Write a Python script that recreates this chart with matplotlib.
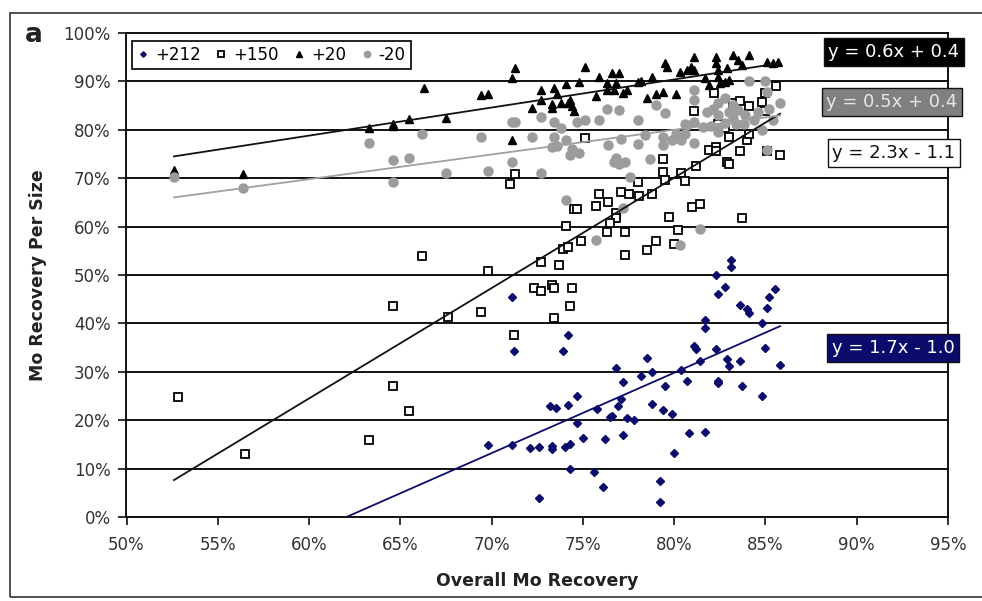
import numpy as np
import matplotlib.pyplot as plt
from matplotlib.patches import Rectangle
from matplotlib.ticker import MultipleLocator, FuncFormatter

plt.rcParams['font.family'] = 'DejaVu Sans'

# overall Mo recovery (%) against recovery per size fraction (%)
x_212 = [71.1, 74.2, 71.2, 73.9, 78.5, 82.3, 83.1, 83.1, 82.8, 82.4, 85.5, 85.2, 85.1, 83.6, 84.0,
         84.1, 84.8, 81.7, 81.7, 81.1, 81.2, 82.3, 85.0, 82.9, 83.0, 83.6, 85.8, 81.4, 80.4, 78.8,
         78.2, 77.2, 76.8, 80.7, 79.5, 82.4, 82.4, 83.7, 84.8, 74.7, 73.2, 73.5, 74.2, 75.8, 77.1,
         76.9, 76.6, 76.5, 77.4, 77.8, 78.8, 79.4, 79.9, 74.7, 69.8, 71.1, 72.1, 72.6, 73.3, 73.3,
         74.0, 74.3, 75.0, 76.2, 77.2, 80.8, 81.7, 80.0, 74.3, 75.6, 76.1, 72.6, 79.2, 79.2]
y_212 = [45.4, 37.7, 34.4, 34.3, 32.9, 50.1, 53.1, 51.7, 47.5, 46.0, 47.1, 45.5, 43.2, 43.9, 42.9,
         42.1, 40.0, 40.8, 39.1, 35.4, 34.7, 34.7, 34.9, 32.6, 31.2, 32.2, 31.5, 32.2, 30.4, 29.9,
         29.1, 27.8, 30.8, 28.0, 27.1, 28.0, 27.6, 27.1, 25.1, 25.1, 22.9, 22.5, 23.1, 22.3, 24.3,
         22.9, 20.9, 20.7, 20.4, 20.0, 23.3, 22.1, 21.2, 19.4, 14.9, 14.9, 14.2, 14.5, 14.7, 14.0,
         14.5, 15.1, 16.4, 16.1, 16.9, 17.3, 17.5, 13.2, 9.9, 9.2, 6.3, 3.9, 7.5, 3.0]

x_150 = [52.8, 56.5, 63.3, 64.6, 64.6, 65.5, 66.2, 67.6, 69.4, 69.8, 71.2, 71.3, 71.0, 72.3, 72.7,
         72.7, 73.3, 73.4, 74.4, 74.3, 73.4, 73.7, 73.9, 74.2, 74.9, 74.1, 74.5, 74.7, 75.1, 75.7,
         75.9, 76.4, 76.8, 76.8, 76.5, 76.3, 77.3, 77.3, 77.1, 77.5, 78.0, 78.1, 78.8, 78.5, 79.0,
         79.7, 80.0, 80.2, 79.4, 79.4, 79.5, 80.4, 80.6, 81.2, 81.0, 81.4, 81.1, 81.9, 82.3, 82.3,
         82.9, 83.0, 82.4, 82.8, 83.0, 82.2, 83.2, 83.6, 83.7, 83.6, 84.0, 84.1, 84.1, 84.8, 85.0,
         85.0, 85.6, 85.8, 85.1]
y_150 = [24.7, 13.0, 15.9, 43.6, 27.1, 21.8, 53.9, 41.3, 42.3, 50.9, 37.6, 70.8, 68.9, 47.3, 46.7,
         52.7, 48.0, 47.3, 47.3, 43.6, 41.1, 52.1, 55.3, 55.7, 57.0, 60.1, 63.6, 63.6, 78.4, 64.3,
         66.7, 65.0, 62.9, 61.7, 60.7, 58.9, 58.9, 54.1, 67.2, 66.7, 69.3, 66.4, 66.7, 55.2, 57.0,
         62.0, 56.4, 59.3, 73.9, 71.3, 69.6, 71.1, 69.4, 72.5, 64.0, 64.6, 83.9, 75.8, 76.5, 75.6,
         73.4, 72.9, 81.3, 80.3, 78.6, 87.7, 85.5, 86.0, 61.8, 75.6, 77.9, 79.1, 85.0, 85.8, 83.9,
         87.6, 89.0, 74.8, 75.6]

x_20 = [52.6, 56.4, 63.3, 64.6, 64.6, 65.5, 66.3, 67.5, 69.4, 69.8, 71.3, 71.1, 71.1, 72.2, 72.7,
        72.7, 73.4, 73.6, 73.3, 73.3, 73.8, 74.1, 74.2, 74.3, 74.4, 74.5, 74.8, 75.1, 75.7, 75.9,
        76.3, 76.3, 76.6, 76.7, 76.8, 77.0, 77.2, 77.4, 78.0, 78.2, 78.5, 79.0, 79.4, 80.1, 78.8,
        79.5, 79.6, 80.3, 80.7, 80.9, 81.1, 81.1, 81.7, 81.9, 82.3, 82.3, 82.4, 82.9, 83.0, 82.5,
        83.2, 83.5, 83.7, 84.1, 85.1, 85.4, 85.7, 82.4, 82.8]
y_20 = [71.7, 70.9, 80.3, 81.3, 80.8, 82.2, 88.7, 82.4, 87.2, 87.3, 92.7, 90.6, 77.9, 84.6, 88.2,
        86.2, 88.7, 87.3, 85.4, 84.6, 85.6, 89.4, 85.5, 86.2, 84.9, 83.9, 89.9, 92.9, 86.9, 91.0,
        88.2, 89.6, 91.7, 88.2, 89.6, 91.7, 87.7, 88.2, 89.9, 90.1, 86.5, 87.5, 87.9, 87.5, 91.0,
        93.7, 93.0, 92.0, 92.4, 93.0, 92.4, 95.1, 90.6, 89.3, 95.1, 93.9, 92.4, 92.7, 90.3, 89.6,
        95.5, 94.4, 93.4, 95.5, 94.1, 93.7, 94.1, 91.0, 89.9]

x_m20 = [52.6, 56.4, 63.3, 64.6, 65.5, 64.6, 66.2, 67.5, 69.4, 69.8, 71.1, 71.3, 71.1, 72.2, 72.7,
         72.7, 73.4, 73.4, 73.8, 74.1, 73.3, 73.6, 74.3, 74.4, 74.8, 74.7, 75.1, 75.9, 76.3, 77.0,
         76.4, 76.8, 76.7, 77.3, 77.0, 77.1, 78.0, 78.0, 77.6, 78.7, 79.0, 79.5, 78.4, 79.4, 79.4,
         80.1, 80.4, 80.6, 81.1, 81.1, 81.1, 84.1, 85.0, 85.1, 85.8, 81.1, 81.8, 82.1, 82.4, 82.8,
         83.2, 82.4, 83.0, 83.5, 83.9, 84.4, 84.6, 85.2, 85.4, 82.0, 82.4, 82.8, 83.2, 83.4, 83.8,
         81.6, 82.4, 84.8, 80.7, 80.6, 79.9, 85.1, 74.1, 75.7, 77.2, 80.3, 81.4]
y_m20 = [70.2, 68.0, 77.2, 73.8, 74.1, 69.3, 79.1, 71.1, 78.6, 71.5, 81.7, 81.7, 73.4, 78.6, 82.7,
         71.0, 81.7, 78.6, 80.3, 77.9, 76.5, 76.7, 74.8, 76.0, 75.3, 81.7, 82.0, 82.0, 84.3, 84.1,
         76.9, 74.1, 73.4, 73.4, 72.9, 78.2, 82.0, 77.0, 70.3, 73.9, 85.1, 83.4, 78.9, 76.9, 78.6,
         79.1, 77.9, 81.3, 77.2, 88.2, 86.2, 90.1, 90.1, 87.9, 85.5, 81.7, 83.7, 84.4, 85.5, 86.5,
         85.1, 83.1, 83.7, 84.1, 83.1, 82.0, 83.7, 84.4, 82.0, 80.8, 80.4, 81.5, 82.4, 81.3, 81.3,
         80.5, 79.6, 80.0, 81.0, 79.1, 77.9, 75.8, 65.5, 57.2, 63.8, 56.3, 59.6]

sizes = ['+212', '+150', '+20', '-20']
# linear trendlines, y = m*x + b on fractional recoveries
slopes = [1.66, 2.28, 0.58, 0.51]
intercepts = [-1.03, -1.123, 0.44, 0.392]

navy = '#0b0b6b'
series = [
    (x_212, y_212, dict(marker='D', ms=4.0, color=navy, mec=navy)),
    (x_150, y_150, dict(marker='s', ms=6.2, mfc='white', mec='black', mew=1.3)),
    (x_20, y_20, dict(marker='^', ms=5.5, color='black', mec='black')),
    (x_m20, y_m20, dict(marker='o', ms=6.5, color='#9c9c9c', mec='#9c9c9c')),
]

fig = plt.figure(figsize=(9.82, 6.01), dpi=100)
W, H = 982, 601
ax = fig.add_axes([126.5 / W, 1 - 517 / H, (948 - 126.5) / W, (517 - 33) / H])

for (xs, ys, style), name in zip(series, sizes):
    ax.plot(np.array(xs) / 100, np.array(ys) / 100, linestyle='none', label=name, **style)

# trendlines over the common range of overall recovery
all_x = np.concatenate([x_212, x_150, x_20, x_m20]) / 100
xr = np.array([all_x.min(), all_x.max()])
line_colors = [navy, '#111111', '#111111', '#a0a0a0']
for m, b, c in zip(slopes, intercepts, line_colors):
    ax.plot(xr, m * xr + b, color=c, lw=1.3)

ax.set_xlim(0.5, 0.95)
ax.set_ylim(0, 1.0)
ax.xaxis.set_major_locator(MultipleLocator(0.05))
ax.yaxis.set_major_locator(MultipleLocator(0.1))
pct = FuncFormatter(lambda v, p: f'{v * 100:.0f}%')
ax.xaxis.set_major_formatter(pct)
ax.yaxis.set_major_formatter(pct)
ax.yaxis.grid(True, color='#111111', lw=1.4)
ax.set_axisbelow(True)
for s in ax.spines.values():
    s.set_color('#111111')
    s.set_linewidth(1.4)
ax.tick_params(axis='both', direction='out', length=5.5, width=1.2, color='#111111',
               labelsize=12, labelcolor='#333333')
ax.tick_params(axis='y', pad=6)
ax.tick_params(axis='x', pad=8)

ax.set_xlabel('Overall Mo Recovery', fontsize=12.5, fontweight='bold', color='#222222', labelpad=13)
ax.set_ylabel('Mo Recovery Per Size', fontsize=12.5, fontweight='bold', color='#222222', labelpad=12)

leg = ax.legend(loc='upper left', bbox_to_anchor=(0.007, 0.984), borderaxespad=0, ncol=4,
                fontsize=12, markerscale=0.7, handlelength=0.7, handletextpad=0.35,
                columnspacing=0.9, borderpad=0.3, fancybox=False, framealpha=1)
leg.get_frame().set_edgecolor('#111111')
leg.get_frame().set_linewidth(1.3)

# trendline equations
box_fc = [navy, 'white', 'black', '#808080']
box_tc = ['white', '#111111', 'white', '#e6e6e6']
box_xy = [(893, 348), (894, 153), (894, 52), (892, 102)]
for m, b, fc, tc, (px, py) in zip(slopes, intercepts, box_fc, box_tc, box_xy):
    sign = '+' if b >= 0 else '-'
    label = f'y = {m:.1f}x {sign} {abs(b):.1f}'
    fig.text(px / W, 1 - py / H, label, ha='center', va='center', fontsize=13, color=tc,
             bbox=dict(boxstyle='square,pad=0.25', fc=fc, ec='#111111', lw=1.0))

fig.text(25 / W, 1 - 42 / H, 'a', fontsize=19, fontweight='bold', color='#222222', va='baseline')
fig.add_artist(Rectangle((10 / W, 1 - 597 / H), 1.0, (597 - 13) / H, transform=fig.transFigure,
                         fill=False, ec='#333333', lw=1.2))

fig.savefig('out.png', dpi=100)
